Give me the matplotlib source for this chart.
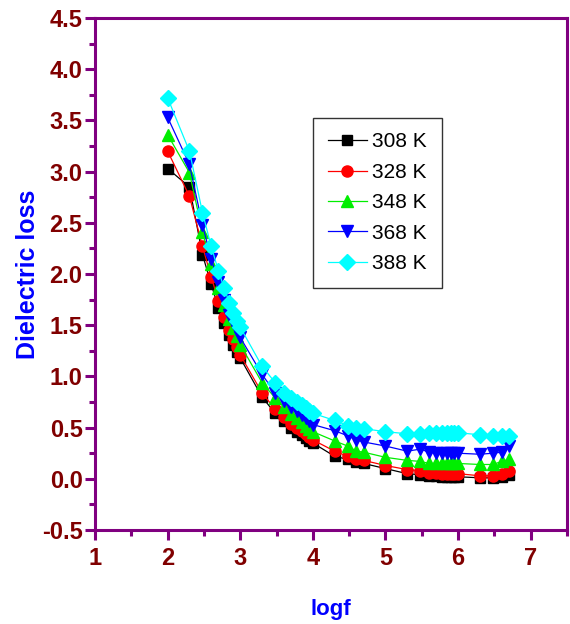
import matplotlib
matplotlib.use("Agg")
import matplotlib.pyplot as plt
from matplotlib.ticker import MultipleLocator

# log of measuring frequency
logf = [2.0, 2.3, 2.48, 2.6, 2.7, 2.78, 2.85, 2.9, 2.95, 3.0,
        3.3, 3.48, 3.6, 3.7, 3.78, 3.85, 3.9, 3.95, 4.0,
        4.3, 4.48, 4.6, 4.7, 5.0,
        5.3, 5.48, 5.6, 5.7, 5.78, 5.85, 5.9, 5.95, 6.0,
        6.3, 6.48, 6.6, 6.7]

loss_308 = [3.03, 2.85, 2.19, 1.90, 1.67, 1.52, 1.40, 1.31, 1.24, 1.18,
            0.80, 0.64, 0.56, 0.50, 0.46, 0.43, 0.40, 0.37, 0.35,
            0.22, 0.19, 0.16, 0.15, 0.10,
            0.05, 0.04, 0.03, 0.03, 0.02, 0.02, 0.02, 0.02, 0.02,
            0.01, 0.01, 0.02, 0.04]
loss_328 = [3.20, 2.76, 2.27, 1.97, 1.74, 1.58, 1.45, 1.37, 1.29, 1.21,
            0.84, 0.68, 0.60, 0.54, 0.50, 0.47, 0.44, 0.41, 0.38,
            0.27, 0.22, 0.19, 0.18, 0.13,
            0.09, 0.08, 0.06, 0.06, 0.05, 0.05, 0.05, 0.05, 0.05,
            0.03, 0.03, 0.05, 0.08]
loss_348 = [3.36, 2.99, 2.41, 2.10, 1.86, 1.70, 1.56, 1.47, 1.39, 1.31,
            0.94, 0.79, 0.70, 0.63, 0.59, 0.55, 0.52, 0.49, 0.46,
            0.37, 0.32, 0.27, 0.26, 0.21,
            0.18, 0.17, 0.15, 0.15, 0.15, 0.15, 0.15, 0.15, 0.15,
            0.14, 0.14, 0.17, 0.19]
loss_368 = [3.53, 3.07, 2.48, 2.15, 1.92, 1.75, 1.60, 1.53, 1.45, 1.38,
            1.02, 0.84, 0.76, 0.70, 0.66, 0.62, 0.59, 0.56, 0.53,
            0.47, 0.42, 0.38, 0.36, 0.32,
            0.27, 0.29, 0.26, 0.25, 0.25, 0.25, 0.25, 0.25, 0.25,
            0.24, 0.25, 0.26, 0.32]
loss_388 = [3.72, 3.20, 2.60, 2.27, 2.03, 1.86, 1.72, 1.62, 1.54, 1.48,
            1.10, 0.94, 0.84, 0.79, 0.75, 0.72, 0.69, 0.66, 0.64,
            0.57, 0.52, 0.50, 0.49, 0.46,
            0.44, 0.44, 0.45, 0.45, 0.45, 0.45, 0.45, 0.45, 0.45,
            0.43, 0.42, 0.42, 0.42]

labels = ["308 K", "328 K", "348 K", "368 K", "388 K"]
colors = ["black", "red", "#00ee00", "blue", "cyan"]
markers = ["s", "o", "^", "v", "D"]
sizes = [7, 8, 8.5, 8.5, 8]

plt.rcParams["font.family"] = ["Liberation Sans", "DejaVu Sans"]

fig = plt.figure(figsize=(5.7, 6.24), dpi=100)
ax = fig.add_axes([0.1667, 0.1506, 0.828, 0.8206])

# one curve per temperature
series = [loss_308, loss_328, loss_348, loss_368, loss_388]
for y, lab, c, m, s in zip(series, labels, colors, markers, sizes):
    ax.plot(logf, y, color=c, marker=m, markersize=s, linewidth=0.9,
            markeredgecolor=c, label=lab)

ax.set_xlim(1, 7.5)
ax.set_ylim(-0.5, 4.5)
ax.xaxis.set_minor_locator(MultipleLocator(0.5))
ax.yaxis.set_minor_locator(MultipleLocator(0.25))

# purple frame and ticks, dark red tick labels
purple = "#800080"
darkred = "#800000"
for sp in ax.spines.values():
    sp.set_color(purple)
    sp.set_linewidth(2.2)
ax.tick_params(which="both", direction="out", color=purple, width=2.2)
ax.tick_params(which="major", length=7, labelsize=17, labelcolor=darkred, pad=2)
ax.tick_params(which="minor", length=4)
ax.set_xticks(range(1, 8))
ax.set_xticklabels([str(i) for i in range(1, 8)], fontweight="bold")
ax.set_yticks([-0.5 + 0.5 * i for i in range(11)])
ax.set_yticklabels(["%.1f" % (-0.5 + 0.5 * i) for i in range(11)], fontweight="bold")
ax.tick_params(axis="x", pad=5)

ax.set_xlabel("logf", color="blue", fontsize=16, fontweight="bold", labelpad=21)
ax.set_ylabel("Dielectric loss", color="blue", fontsize=18, fontweight="bold", labelpad=1)

leg = ax.legend(loc="upper left", bbox_to_anchor=(0.462, 0.805), borderaxespad=0,
                fontsize=15, frameon=True, fancybox=False, edgecolor="black",
                handlelength=1.9, handletextpad=0.25, labelspacing=0.55,
                borderpad=0.7)
leg.get_frame().set_linewidth(1.0)

fig.savefig("out.png", dpi=100)
